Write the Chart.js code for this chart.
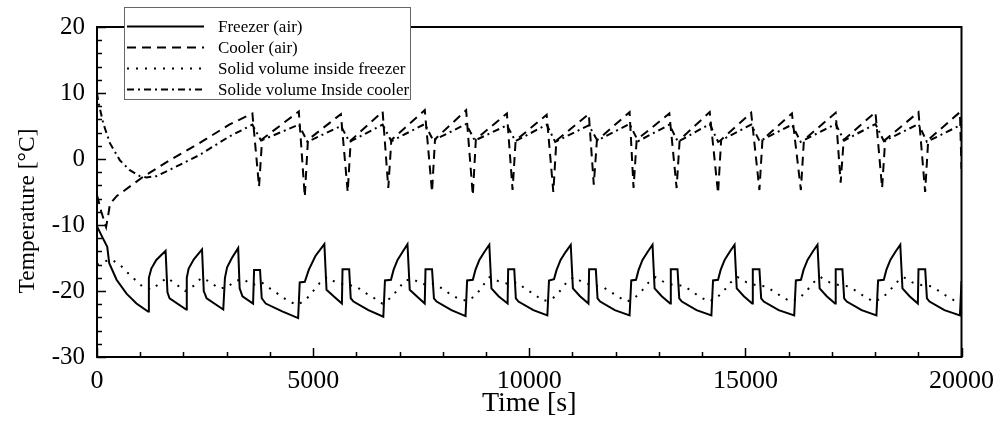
<!DOCTYPE html>
<html>
<head>
<meta charset="utf-8">
<script src="https://cdn.jsdelivr.net/npm/chart.js@4.4.0/dist/chart.umd.min.js"></script>
<style>
  html, body { margin: 0; padding: 0; background: #fff; }
  #wrap { width: 1003px; height: 421px; }
</style>
</head>
<body>
<div id="wrap"><canvas id="myChart" width="1003" height="421"></canvas></div>
<script>
// series names (legend)
var seriesNames = ["Freezer (air)", "Cooler (air)", "Solid volume inside freezer", "Solide volume Inside cooler"];

// axis ticks
var xTicks = [0, 5000, 10000, 15000, 20000];
var yTicks = [-30, -20, -10, 0, 10, 20];

// Freezer (air) - solid
var freezerTime = [0, 120, 237, 283, 453, 683, 913, 1180, 1200, 1257, 1372, 1587, 1630, 1679, 2063, 2077, 2120, 2240, 2430, 2470, 2537, 2921, 2960, 3010, 3120, 3266, 3300, 3365, 3611, 3634, 3772, 3811, 3903, 4285, 4653, 4690, 4807, 4899, 5053, 5260, 5310, 5474, 5666, 5680, 5834, 5870, 5934, 6279,
  6624, 6662, 6801, 6861, 6953, 7068, 7183, 7235, 7397, 7582, 7600, 7751, 7795, 7857, 8200,
  8526, 8563, 8695, 8755, 8846, 8961, 9076, 9125, 9290, 9499, 9512, 9653, 9690, 9750, 10095,
  10419, 10457, 10573, 10633, 10725, 10840, 10960, 11010, 11175, 11370, 11385, 11540, 11580, 11640, 11980,
  12321, 12360, 12470, 12530, 12620, 12737, 12852, 12900, 13065, 13260, 13275, 13430, 13470, 13530, 13870,
  14214, 14252, 14368, 14428, 14520, 14635, 14750, 14800, 14965, 15158, 15172, 15325, 15365, 15425, 15770,
  16130, 16168, 16286, 16346, 16438, 16553, 16668, 16718, 16882, 17075, 17090, 17245, 17285, 17345, 17690,
  18032, 18070, 18202, 18262, 18354, 18469, 18584, 18634, 18798, 18990, 19005, 19160, 19200, 19260, 19605,
  19964, 20000];
var freezerTemp = [-10.2, -11.8, -13.3, -15.8, -18.3, -20.4, -21.9, -23.1, -18.0, -16.6, -15.3, -13.9, -20.2, -21.1, -22.8, -18.0, -16.6, -15.2, -13.7, -20.0, -21.1, -22.8, -18.0, -16.4, -15.0, -13.5, -19.6, -20.8, -21.9, -16.8, -16.8, -21.1, -21.9, -23.1, -24.1, -18.7, -18.6, -16.8, -14.7, -12.9, -19.8, -20.8, -21.9, -16.7, -16.7, -21.1, -21.6, -22.9,
  -23.9, -18.4, -18.3, -16.8, -15.3, -14.1, -12.9, -19.8, -20.8, -21.9, -16.7, -16.7, -21.1, -21.6, -22.9,
  -23.8, -18.4, -18.3, -16.8, -15.3, -14.1, -13.0, -19.6, -20.8, -21.9, -16.7, -16.7, -21.1, -21.6, -22.9,
  -23.7, -18.4, -18.2, -16.8, -15.3, -14.1, -13.0, -19.6, -20.8, -21.9, -16.7, -16.7, -21.1, -21.6, -22.9,
  -23.7, -18.4, -18.3, -16.8, -15.3, -14.1, -13.0, -19.6, -20.8, -21.9, -16.7, -16.7, -21.1, -21.6, -22.9,
  -23.7, -18.4, -18.3, -16.8, -15.3, -14.1, -13.0, -19.6, -20.8, -21.9, -16.7, -16.7, -21.1, -21.6, -22.9,
  -23.7, -18.4, -18.3, -16.8, -15.3, -14.1, -13.0, -19.6, -20.8, -21.9, -16.7, -16.7, -21.1, -21.6, -22.9,
  -23.7, -18.4, -18.3, -16.8, -15.3, -14.1, -13.0, -19.6, -20.8, -21.9, -16.7, -16.7, -21.1, -21.6, -22.9,
  -23.7, -18.5];

// Cooler (air) - dashed
var coolerTime = [0, 100, 210, 260, 300, 460, 1066, 1679, 2369, 3059, 3595, 3749, 3820,
  4669, 4807, 4880, 5642, 5800, 5870, 6608, 6739, 6810, 7583, 7751, 7820, 8540, 8694, 8765,
  9483, 9614, 9685, 10403, 10557, 10628, 11378, 11493, 11565, 12321, 12413, 12485, 13241, 13409, 13480,
  14175, 14368, 14440, 15134, 15325, 15395, 16077, 16284, 16355, 17089, 17204, 17275, 18009, 18163, 18235,
  19005, 19159, 19230, 19964, 20000];
var coolerTemp = [-5.5, -8.0, -10.3, -8.5, -6.8, -5.6, -2.7, -0.2, 2.4, 5.2, 6.9, -4.2, 3.0,
  7.2, -5.7, 2.9, 6.8, -5.0, 2.8, 7.2, -4.4, 2.9, 7.4, -5.0, 3.0, 7.4, -5.5, 3.0,
  6.9, -4.7, 2.8, 6.7, -5.0, 2.8, 6.8, -3.9, 2.8, 7.1, -4.4, 2.9, 6.9, -4.4, 2.9,
  7.1, -5.2, 2.9, 7.0, -4.7, 2.9, 6.9, -4.7, 2.9, 7.0, -3.6, 2.9, 7.1, -4.4, 2.9,
  7.1, -5.0, 2.9, 7.1, -1.5];

// Solid volume inside freezer - dotted
var solidFreezerTime = [0, 108, 322, 529, 705, 882, 1066, 1273, 1449, 1625, 1832, 2039, 2239, 2415, 2615, 2813, 3005, 3189, 3381, 3595,
  3811, 4018, 4225, 4416, 4630, 4822, 4991, 5152, 5320, 5527, 5743, 5973, 6187, 6394, 6601, 6801, 6969, 7122, 7314, 7528,
  7751, 7951, 8158, 8365, 8579, 8771, 8924, 9077, 9284, 9499, 9713, 9920, 10113, 10327, 10534, 10711, 10863,
  11030, 11240, 11450, 11680, 11880, 12060, 12260, 12432, 12612, 12762,
  12922, 13132, 13342, 13572, 13772, 13952, 14152, 14330, 14510, 14660,
  14820, 15030, 15240, 15470, 15670, 15850, 16050, 16248, 16428, 16578,
  16738, 16948, 17158, 17388, 17588, 17768, 17968, 18164, 18344, 18494,
  18654, 18864, 19074, 19304, 19504, 19684, 19884, 20000];
var solidFreezerTemp = [-16.0, -15.7, -15.2, -16.0, -17.2, -18.3, -19.4, -19.8, -18.8, -18.0, -19.0, -20.0, -19.2, -18.0, -18.6, -19.6, -19.5, -18.5, -18.2, -19.1,
  -18.7, -19.7, -20.6, -21.5, -22.1, -21.4, -20.1, -18.8, -17.9, -18.7, -19.1, -19.2, -20.2, -21.0, -21.9, -21.0, -19.7, -18.4, -18.2, -19.0,
  -18.8, -19.5, -20.4, -21.2, -21.5, -20.6, -19.2, -17.9, -18.5, -18.9, -18.7, -19.7, -20.5, -21.5, -21.2, -20.0, -18.7,
  -17.9, -18.7, -19.1, -19.3, -20.1, -20.9, -21.6, -21.1, -19.9, -18.7,
  -17.9, -18.7, -19.1, -19.2, -20.1, -20.9, -21.6, -21.1, -19.9, -18.7,
  -17.9, -18.7, -19.1, -19.3, -20.1, -20.9, -21.6, -21.1, -19.9, -18.7,
  -17.9, -18.7, -19.1, -19.3, -20.1, -20.9, -21.6, -21.1, -19.9, -18.7,
  -17.9, -18.7, -19.1, -19.3, -20.1, -20.9, -21.6, -21.8];

// Solide volume inside cooler - dash-dot
var solidCoolerTime = [0, 30, 145, 299, 529, 759, 989, 1143, 1373, 1755, 2369, 3059, 3595, 3795,
  4669, 4870, 5642, 5840, 6608, 6810, 7583, 7780, 8540, 8740, 9483, 9680, 10403, 10600, 11378, 11575,
  12321, 12520, 13241, 13440, 14175, 14370, 15134, 15330, 16077, 16280, 17089, 17285, 18009, 18205,
  19005, 19200, 19964, 20000];
var solidCoolerTemp = [10.0, 8.7, 5.4, 2.4, -0.2, -1.7, -2.6, -2.8, -2.6, -1.4, 0.6, 3.4, 5.2, 2.8,
  5.2, 2.6, 5.0, 2.6, 5.2, 2.7, 5.3, 2.8, 5.3, 2.8, 5.1, 2.7, 5.2, 2.6, 5.1, 2.8,
  5.3, 2.7, 5.2, 2.6, 5.3, 2.6, 5.2, 2.7, 5.2, 2.6, 5.3, 2.8, 5.3, 2.7,
  5.3, 2.6, 5.1, 4.8];

var serif = "'Liberation Serif', 'Times New Roman', 'DejaVu Serif', serif";

function pts(ts, vs) {
  return ts.map(function (t, i) { return { x: t, y: vs[i] }; });
}

var dashes = [[], [9, 6], [2, 7], [7, 4, 2, 4]];

// frame, inward ticks, axis titles and the boxed legend
var framePlugin = {
  id: "frame",
  afterDraw: function (chart) {
    var ctx = chart.ctx, a = chart.chartArea, xs = chart.scales.x, ys = chart.scales.y;
    ctx.save();
    ctx.strokeStyle = "#000";
    ctx.lineWidth = 1.5;
    ctx.beginPath();
    for (var t = xs.min; t <= xs.max; t += 1000) {
      var px = Math.round(xs.getPixelForValue(t)) + 0.5;
      var len = xTicks.indexOf(t) >= 0 ? 9 : 5;
      ctx.moveTo(px, a.bottom);
      ctx.lineTo(px, a.bottom - len);
    }
    for (var v = ys.min; v <= ys.max; v += 2) {
      var py = Math.round(ys.getPixelForValue(v)) + 0.5;
      var l2 = yTicks.indexOf(v) >= 0 ? 9 : 5;
      ctx.moveTo(a.left, py);
      ctx.lineTo(a.left + l2, py);
    }
    ctx.stroke();
    ctx.lineWidth = 2;
    ctx.strokeRect(a.left, a.top, a.right - a.left, a.bottom - a.top);

    // axis titles
    ctx.fillStyle = "#000";
    ctx.textAlign = "center";
    ctx.textBaseline = "middle";
    ctx.font = "28px " + serif;
    ctx.fillText("Time [s]", (a.left + a.right) / 2, 404);
    ctx.save();
    ctx.translate(28, 211);
    ctx.rotate(-Math.PI / 2);
    ctx.font = "23.5px " + serif;
    ctx.fillText("Temperature [\u00B0C]", 0, 0);
    ctx.restore();

    // legend
    var bx = 124.5, by = 7.5, bw = 286, bh = 92;
    ctx.fillStyle = "#fff";
    ctx.fillRect(bx, by, bw, bh);
    ctx.strokeStyle = "#666";
    ctx.lineWidth = 1;
    ctx.strokeRect(bx, by, bw, bh);
    ctx.font = "17px " + serif;
    ctx.textAlign = "left";
    ctx.fillStyle = "#000";
    ctx.strokeStyle = "#000";
    for (var i = 0; i < seriesNames.length; i++) {
      var ry = 26.5 + i * 21;
      ctx.lineWidth = 2;
      ctx.setLineDash(dashes[i]);
      ctx.beginPath();
      ctx.moveTo(127, ry);
      ctx.lineTo(204, ry);
      ctx.stroke();
      ctx.setLineDash([]);
      ctx.fillText(seriesNames[i], 218, ry + 1);
    }
    ctx.restore();
  }
};

var ctx = document.getElementById("myChart").getContext("2d");
var myChart = new Chart(ctx, {
  type: "line",
  data: {
    datasets: [
      { label: seriesNames[0], data: pts(freezerTime, freezerTemp), borderDash: dashes[0] },
      { label: seriesNames[1], data: pts(coolerTime, coolerTemp), borderDash: dashes[1] },
      { label: seriesNames[2], data: pts(solidFreezerTime, solidFreezerTemp), borderDash: dashes[2] },
      { label: seriesNames[3], data: pts(solidCoolerTime, solidCoolerTemp), borderDash: dashes[3] }
    ]
  },
  options: {
    responsive: false,
    animation: false,
    events: [],
    parsing: false,
    elements: {
      line: { borderColor: "#000", borderWidth: 2, tension: 0, fill: false },
      point: { radius: 0 }
    },
    layout: { padding: { top: 27, right: 37, bottom: 0, left: 0 } },
    plugins: { legend: { display: false }, tooltip: { enabled: false } },
    scales: {
      x: {
        type: "linear",
        min: 0,
        max: 20000,
        afterBuildTicks: function (s) { s.ticks = xTicks.map(function (v) { return { value: v }; }); },
        afterFit: function (s) { s.height = 64; },
        grid: { display: false, drawTicks: false },
        border: { display: false },
        ticks: {
          padding: 9,
          maxRotation: 0,
          color: "#000",
          font: { family: serif, size: 26 },
          callback: function (v) { return String(v); }
        }
      },
      y: {
        type: "linear",
        min: -30,
        max: 20,
        afterBuildTicks: function (s) { s.ticks = yTicks.map(function (v) { return { value: v }; }); },
        afterFit: function (s) { s.width = 97; },
        grid: { display: false, drawTicks: false },
        border: { display: false },
        ticks: {
          padding: 12,
          color: "#000",
          font: { family: serif, size: 25 },
          callback: function (v) { return String(v); }
        }
      }
    }
  },
  plugins: [framePlugin]
});
</script>
</body>
</html>
